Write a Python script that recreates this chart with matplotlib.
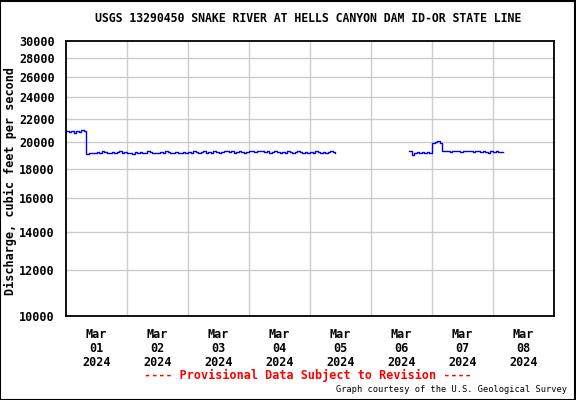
import numpy as np
import pandas as pd
import matplotlib
matplotlib.use("Agg")
import matplotlib.pyplot as plt
from matplotlib.ticker import FixedLocator, NullLocator
from matplotlib.patches import Rectangle

# hourly discharge, cfs
seg1_start = "2024-03-01 00:00"
seg1_values = [
    20900, 20850, 20900, 20800, 20950, 20850, 21000, 20900,
    19100, 19150, 19200, 19150, 19250, 19200, 19300, 19250,
    19200, 19150, 19250, 19200, 19250, 19300, 19200, 19250,
    19200, 19150, 19100, 19250, 19200, 19250, 19150, 19200,
    19300, 19250, 19200, 19150, 19200, 19250, 19200, 19300,
    19250, 19200, 19150, 19250, 19200, 19200, 19250, 19200,
    19250, 19200, 19300, 19250, 19200, 19250, 19300, 19200,
    19250, 19200, 19300, 19250, 19200, 19250, 19300, 19350,
    19250, 19300, 19200, 19250, 19300, 19250, 19200, 19250,
    19300, 19350, 19250, 19300, 19350, 19300, 19250, 19300,
    19200, 19250, 19300, 19250, 19200, 19250, 19200, 19300,
    19250, 19200, 19250, 19300, 19250, 19200, 19250, 19200,
    19250, 19200, 19300, 19250, 19200, 19250, 19200, 19250,
    19300, 19250, 19200,
]
seg2_start = "2024-03-06 15:00"
seg2_values = [
    19300, 19050, 19200, 19250, 19200, 19250, 19200, 19250, 19200,
    19950, 20000, 20100, 19950,
    19350, 19300, 19350, 19250, 19300, 19350, 19300, 19250, 19350,
    19300, 19350, 19300, 19250, 19300, 19350, 19250, 19300, 19250,
    19200, 19300, 19250, 19300, 19250, 19250, 19250,
]

y_ticks = [10000, 12000, 14000, 16000, 18000, 20000, 22000, 24000, 26000, 28000, 30000]
day_labels = ["Mar\n01\n2024", "Mar\n02\n2024", "Mar\n03\n2024", "Mar\n04\n2024",
              "Mar\n05\n2024", "Mar\n06\n2024", "Mar\n07\n2024", "Mar\n08\n2024"]

t1 = pd.date_range(seg1_start, periods=len(seg1_values), freq="h")
t2 = pd.date_range(seg2_start, periods=len(seg2_values), freq="h")

mono = "DejaVu Sans Mono"

fig = plt.figure(figsize=(5.76, 4.0), dpi=100)
ax = fig.add_axes([66 / 576, 1 - 316 / 400, 488 / 576, 275 / 400])

ax.plot(t1, seg1_values, color="#0000ff", lw=1.0, drawstyle="steps-post")
ax.plot(t2, seg2_values, color="#0000ff", lw=1.0, drawstyle="steps-post")

ax.set_yscale("log")
ax.set_ylim(10000, 30000)
ax.yaxis.set_major_locator(FixedLocator(y_ticks))
ax.yaxis.set_minor_locator(NullLocator())
ax.set_yticklabels([str(v) for v in y_ticks], fontfamily=mono, fontweight="bold", fontsize=8.5)

ax.set_xlim(pd.Timestamp("2024-03-01"), pd.Timestamp("2024-03-09"))
days = pd.date_range("2024-03-01", periods=8, freq="D")
ax.set_xticks(days + pd.Timedelta(hours=12))
ax.set_xticklabels(day_labels, fontfamily=mono, fontweight="bold", fontsize=8.5, linespacing=1.05)

ax.tick_params(axis="both", which="both", length=0)
ax.tick_params(axis="y", pad=8)
ax.tick_params(axis="x", pad=9)

for v in y_ticks[1:-1]:
    ax.axhline(v, color="#cccccc", lw=1, zorder=0)
for d in days[1:]:
    ax.axvline(d, color="#cccccc", lw=1, zorder=0)

for s in ax.spines.values():
    s.set_linewidth(1.3)
    s.set_color("black")

fig.text(10 / 576, 1 - 181 / 400, "Discharge, cubic feet per second", rotation=90,
         ha="center", va="center", fontfamily=mono, fontweight="bold", fontsize=8.5)

fig.text(308 / 576, 1 - 19 / 400, "USGS 13290450 SNAKE RIVER AT HELLS CANYON DAM ID-OR STATE LINE",
         ha="center", va="center", fontfamily=mono, fontweight="bold", fontsize=8.3)
fig.text(308 / 576, 1 - 375 / 400, "---- Provisional Data Subject to Revision ----",
         ha="center", va="center", fontfamily=mono, fontweight="bold", fontsize=8.5, color="red")
fig.text(567 / 576, 1 - 390 / 400, "Graph courtesy of the U.S. Geological Survey",
         ha="right", va="center", fontfamily=mono, fontsize=6.2)

fig.patches.append(Rectangle((0.0008, 0.0012), 0.998, 0.997, transform=fig.transFigure,
                             fill=False, edgecolor="black", lw=1.5))

fig.savefig("out.png", dpi=100)
